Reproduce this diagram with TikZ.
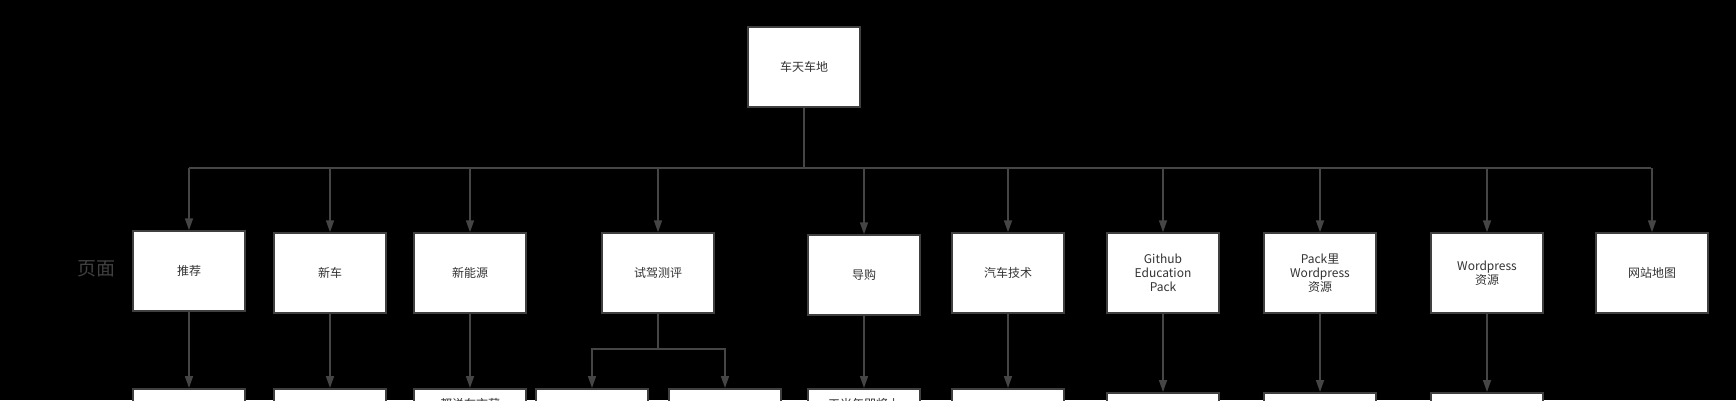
\documentclass[tikz,border=0pt]{standalone}
\usepackage{fontspec}
\setmainfont{Noto Sans CJK SC}
\usetikzlibrary{arrows.meta}
\begin{document}
\begin{tikzpicture}[x=1pt,y=-1pt,
  box/.style={draw=kBorder,line width=1.5pt,fill=white,text=kText,
    minimum width=112pt,minimum height=80pt,align=center,
    font=\fontsize{12}{14}\selectfont,inner sep=2pt},
  link/.style={draw=kLine,line width=1.6pt,-{Triangle[length=12pt,width=8pt]}}]
  % colors
  \definecolor{kBorder}{rgb}{0.25,0.25,0.25}
  \definecolor{kLine}{rgb}{0.27,0.27,0.27}
  \definecolor{kText}{rgb}{0.2,0.2,0.2}
  % canvas
  \useasboundingbox (0,0) rectangle (1736,400);
  \clip (0,0) rectangle (1736,400);
  \fill[black] (0,0) rectangle (1736,400);
  % top
  \node[box] (root) at (804,67) {车天车地};
  \coordinate (bus) at (804,168);
  \draw[kLine,line width=1.6pt] (root.south) -- (bus);
  \draw[kLine,line width=1.6pt] (189,168) -- (1651,168);
  % pages
  \node[text=kBorder,font=\fontsize{19}{20}\selectfont] (lbl) at (96,269) {页面};
  \foreach \n/\x/\y/\t in {p1/189/271/推荐, p2/330/273/新车, p3/470/273/新能源,
      p4/658/273/试驾测评, p5/864/275/导购, p6/1008/273/汽车技术,
      p7/1163/273/{Github\\Education\\Pack}, p8/1320/273/{Pack里\\Wordpress\\资源},
      p9/1487/273/{Wordpress\\资源}, p10/1652/273/网站地图} {
    \node[box] (\n) at (\x,\y) {\t};
    \draw[link] (\x,168) -- (\n.north);
  }
  % children
  \foreach \n/\p/\x/\y in {c1/p1/189/388, c2/p2/330/388, c6/p6/1008/388,
      c7/p7/1163/392, c8/p8/1320/392, c9/p9/1487/392} {
    \node[box,anchor=north] (\n) at (\x,\y) {};
    \draw[link] (\p.south) -- (\n.north);
  }
  \node[box,anchor=north,text height=9pt,text depth=50pt] (c3) at (470,388) {都说在市薪};
  \draw[link] (p3.south) -- (c3.north);
  \node[box,anchor=north,text height=9pt,text depth=50pt] (c5) at (864,388) {工米年即将上};
  \draw[link] (p5.south) -- (c5.north);
  \node[box,anchor=north] (c4a) at (592,388) {};
  \node[box,anchor=north] (c4b) at (725,388) {};
  \coordinate (split) at (658,349);
  \draw[kLine,line width=1.6pt] (p4.south) -- (split);
  \draw[link] (split) -| (c4a.north);
  \draw[link] (split) -| (c4b.north);
\end{tikzpicture}
\end{document}
